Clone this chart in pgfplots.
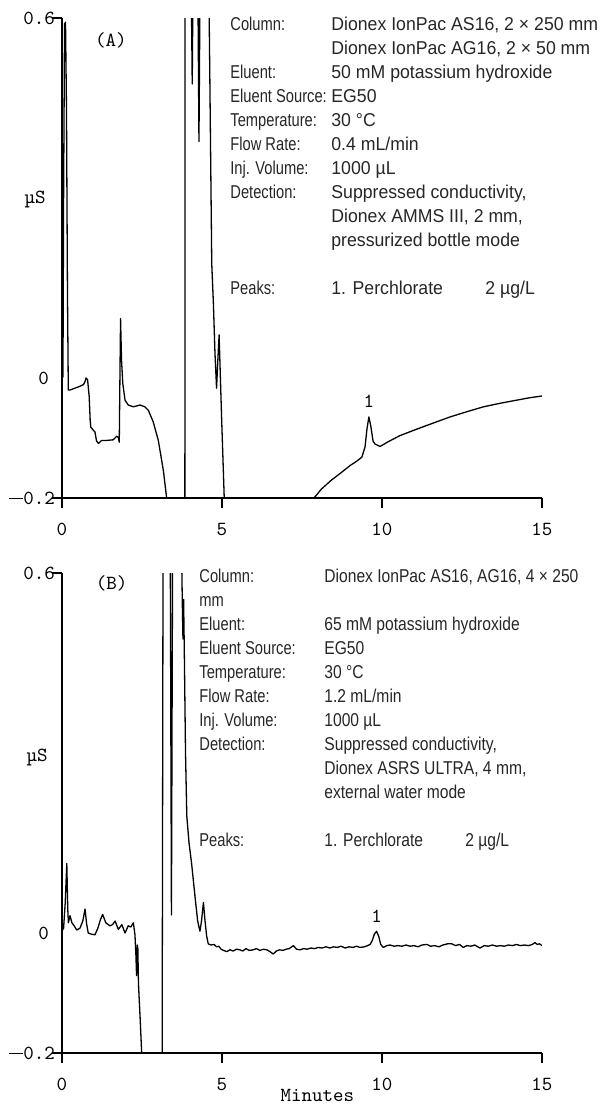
\documentclass[border=0pt]{standalone}
\usepackage{fontspec}
\setmainfont{Liberation Sans}[FakeStretch=0.84]
\newfontfamily\valfont{Liberation Sans}[FakeStretch=0.95]
\newfontfamily\labfont{Liberation Sans}[FakeStretch=0.79]
\usepackage{array}
\usepackage{pgfplots}
\pgfplotsset{compat=1.18}

\pgfplotstableread{
x y
0 0.0
0.03 0.002
0.05 0.3
0.08 0.59
0.11 0.593
0.14 0.45
0.17 0.15
0.197 -0.02
0.25 -0.02
0.4 -0.017
0.55 -0.014
0.67 -0.011
0.72 -0.006
0.75 0.0
0.8 -0.003
0.85 -0.031
0.88 -0.07
0.9 -0.082
0.98 -0.087
1.03 -0.09
1.08 -0.105
1.14 -0.109
1.24 -0.104
1.4 -0.104
1.6 -0.103
1.71 -0.097
1.76 -0.099
1.79 -0.107
1.81 0.0
1.83 0.099
1.86 0.03
1.9 -0.009
1.97 -0.037
2.07 -0.045
2.23 -0.048
2.44 -0.045
2.59 -0.048
2.70 -0.054
2.85 -0.073
3.01 -0.104
3.17 -0.155
3.27 -0.2
3.35 -0.3
3.80 -0.3
3.84 -0.25
3.845 0.7
4.03 0.7
4.07 0.49
4.10 0.7
4.24 0.7
4.28 0.394
4.32 0.7
4.58 0.7
4.62 0.5
4.68 0.19
4.73 0.126
4.78 0.042
4.83 -0.017
4.87 0.03
4.91 0.072
4.95 0.0
4.99 -0.07
5.07 -0.2
5.15 -0.3
7.8 -0.3
7.875 -0.2
8.11 -0.185
8.4 -0.171
8.74 -0.157
9.0 -0.146
9.2 -0.139
9.37 -0.132
9.47 -0.115
9.53 -0.085
9.59 -0.065
9.65 -0.08
9.72 -0.105
9.78 -0.11
9.94 -0.114
10.2 -0.106
10.56 -0.096
11.0 -0.087
11.4 -0.079
12.12 -0.065
12.6 -0.057
13.17 -0.048
13.7 -0.042
14.2 -0.037
14.6 -0.033
15.0 -0.030
}\traceA

\pgfplotstableread{
x y
0 0.004
0.05 0.008
0.1 0.05
0.15 0.116
0.18 0.04
0.2 0.017
0.25 0.029
0.31 0.017
0.38 0.012
0.46 0.005
0.56 0.008
0.65 0.02
0.72 0.04
0.77 0.015
0.82 0.0
0.92 -0.002
1.03 -0.003
1.12 0.008
1.2 0.022
1.27 0.031
1.37 0.017
1.5 0.012
1.58 0.014
1.66 0.02
1.76 0.006
1.87 0.014
1.97 0.0
2.07 0.012
2.15 0.01
2.23 0.017
2.28 -0.003
2.31 -0.037
2.33 -0.071
2.35 -0.02
2.37 -0.025
2.39 -0.085
2.44 -0.14
2.49 -0.2
2.55 -0.3
3.10 -0.3
3.13 -0.2
3.16 0.7
3.38 0.7
3.42 0.03
3.46 0.7
3.72 0.7
3.76 0.55
3.78 0.49
3.80 0.556
3.82 0.48
3.86 0.3
3.90 0.195
3.97 0.15
4.05 0.116
4.16 0.059
4.24 0.02
4.31 0.003
4.36 0.02
4.42 0.051
4.47 0.02
4.52 -0.005
4.57 -0.018
4.65 -0.020
4.75 -0.019
4.83 -0.023
4.9 -0.022
4.97 -0.027
5.05 -0.029
5.15 -0.031
5.25 -0.028
5.35 -0.030
5.45 -0.027
5.56 -0.028
5.65 -0.030
5.75 -0.026
5.85 -0.029
5.97 -0.028
6.08 -0.026
6.18 -0.029
6.3 -0.027
6.4 -0.028
6.5 -0.031
6.6 -0.035
6.7 -0.030
6.8 -0.028
6.9 -0.029
7.0 -0.027
7.1 -0.026
7.23 -0.021
7.33 -0.027
7.44 -0.028
7.55 -0.026
7.66 -0.027
7.78 -0.025
7.9 -0.026
8.0 -0.024
8.12 -0.025
8.25 -0.023
8.37 -0.025
8.48 -0.023
8.6 -0.024
8.72 -0.022
8.85 -0.025
8.97 -0.023
9.1 -0.024
9.2 -0.022
9.31 -0.024
9.45 -0.023
9.55 -0.021
9.63 -0.019
9.70 -0.012
9.76 -0.002
9.83 0.003
9.90 -0.006
9.96 -0.019
10.04 -0.024
10.15 -0.021
10.25 -0.020
10.38 -0.022
10.5 -0.021
10.62 -0.022
10.75 -0.020
10.88 -0.022
11.0 -0.021
11.12 -0.023
11.25 -0.020
11.4 -0.019
11.52 -0.022
11.65 -0.021
11.78 -0.023
11.9 -0.020
12.05 -0.018
12.18 -0.018
12.3 -0.021
12.42 -0.019
12.54 -0.024
12.65 -0.021
12.78 -0.022
12.9 -0.020
13.06 -0.025
13.2 -0.021
13.32 -0.022
13.45 -0.020
13.58 -0.022
13.7 -0.021
13.82 -0.022
13.95 -0.020
14.08 -0.021
14.2 -0.019
14.32 -0.021
14.45 -0.020
14.58 -0.021
14.7 -0.019
14.78 -0.016
14.85 -0.019
14.92 -0.018
15.0 -0.021
}\traceB

\pgfplotsset{
  chrom/.style={
    scale only axis, width=240pt, height=240pt,
    xmin=0, xmax=15, ymin=-0.2, ymax=0.6,
    axis x line*=bottom, axis y line*=left,
    axis line style={line width=0.6pt, -},
    xtick={0,5,10,15}, xticklabels={0,5,10,15},
    ytick={-0.2,0.6}, yticklabels={\rule[2.6pt]{7pt}{0.6pt}0.2,0.6},
    extra y ticks={0}, extra y tick labels={0},
    extra y tick style={major tick length=0pt, yticklabel style={xshift=-8pt}},
    tick align=outside, major tick length=5pt,
    tick style={line width=0.6pt, black},
    ticklabel style={font=\ttfamily\fontsize{10}{12}\selectfont},
    yticklabel style={anchor=east, xshift=5pt},
    xticklabel style={yshift=-4pt},
    clip mode=individual,
  },
  trace/.style={black, line width=0.65pt, line join=round},
}

\newcommand\tfont{\ttfamily\fontsize{10}{12}\selectfont}
\newcommand\ifont{\fontsize{9.3}{12}\selectfont}
\newcommand\la[1]{\makebox[50.5pt][l]{\labfont #1}}
\newcommand\lb[1]{\makebox[62.5pt][l]{\labfont #1}}

\begin{document}
\begin{tikzpicture}
\useasboundingbox (0,0) rectangle (300.5pt,-552.5pt);

\begin{axis}[chrom, at={(31pt,-249pt)}, anchor=south west]
\addplot[trace] table[x=x, y=y] {\traceA};
\node[font=\tfont] at (axis cs:1.53,0.563) {(A)};
\node[font=\tfont] at (axis cs:-0.84,0.298) {µS};
\node[font=\tfont] at (axis cs:9.59,-0.038) {1};
\end{axis}

\begin{axis}[chrom, at={(31pt,-526.5pt)}, anchor=south west]
\addplot[trace] table[x=x, y=y] {\traceB};
\node[font=\tfont] at (axis cs:1.55,0.583) {(B)};
\node[font=\tfont] at (axis cs:-0.78,0.293) {µS};
\node[font=\tfont] at (axis cs:9.83,0.028) {1};
\node[font=\tfont] at (axis cs:7.98,-0.27) {Minutes};
\end{axis}

\node[anchor=base west, inner sep=0pt, font=\ifont, text=black!85] at (115pt,-15pt) {%
\begin{tabular}[t]{@{}l@{}>{\valfont}l@{}}
\la{Column:} & Dionex IonPac AS16, 2 × 250 mm\\
\la{} & Dionex IonPac AG16, 2 × 50 mm\\
\la{Eluent:} & 50 mM potassium hydroxide\\
\la{Eluent Source:} & EG50\\
\la{Temperature:} & 30 °C\\
\la{Flow Rate:} & 0.4 mL/min\\
\la{Inj. Volume:} & 1000 µL\\
\la{Detection:} & Suppressed conductivity,\\
\la{} & Dionex AMMS III, 2 mm,\\
\la{} & pressurized bottle mode\\
\la{} & \\
\la{Peaks:} & \makebox[77pt][l]{1. Perchlorate}2 µg/L\\
\end{tabular}};

\node[anchor=base west, inner sep=0pt, font=\ifont, text=black!85] at (99.5pt,-291pt) {%
\begin{tabular}[t]{@{}l@{}l@{}}
\lb{Column:} & Dionex IonPac AS16, AG16, 4 × 250\\
\lb{mm} & \\
\lb{Eluent:} & 65 mM potassium hydroxide\\
\lb{Eluent Source:} & EG50\\
\lb{Temperature:} & 30 °C\\
\lb{Flow Rate:} & 1.2 mL/min\\
\lb{Inj. Volume:} & 1000 µL\\
\lb{Detection:} & Suppressed conductivity,\\
\lb{} & Dionex ASRS ULTRA, 4 mm,\\
\lb{} & external water mode\\
\lb{} & \\
\lb{Peaks:} & \makebox[70.5pt][l]{1. Perchlorate}2 µg/L\\
\end{tabular}};
\end{tikzpicture}
\end{document}
